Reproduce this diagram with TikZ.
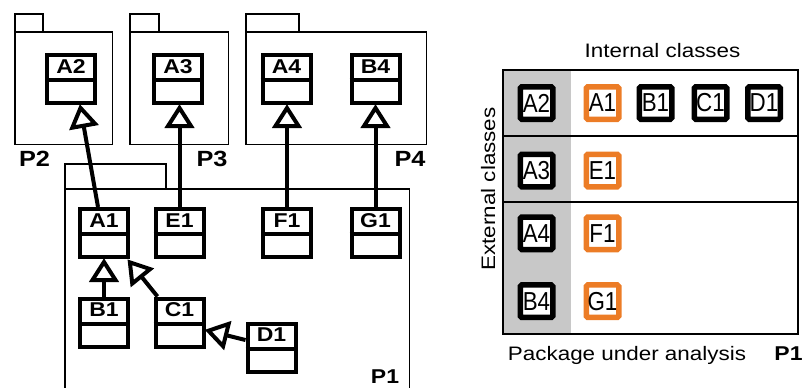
\documentclass[tikz,border=0pt]{standalone}
\usepackage{fontspec}
\setmainfont{Liberation Sans}[FakeStretch=1.15]
\newfontfamily\tabfont{Liberation Sans}[FakeStretch=0.86]
\usetikzlibrary{calc}
\definecolor{orng}{RGB}{236,124,38}
\definecolor{gcol}{RGB}{200,200,200}
\newcommand\umlcls[4]{%
  \node[cls] (#1) at (#2,#3) {};
  \draw[line width=4pt] ($(#1.north west)+(0,27)$) -- ($(#1.north east)+(0,27)$);
  \node[clsname] (#1-name) at ($(#1.north)+(0,13.5)$) {#4};
}
% generalisation: #1 start coordinate, #2 end coordinate (on the target box)
\newcommand\genarrow[2]{%
  \coordinate (ga-apex) at ($(#2)!3pt!(#1)$);
  \coordinate (ga-base) at ($(#2)!21pt!(#1)$);
  \draw[conn] (#1) -- (ga-base);
  \draw[conn, fill=white, line join=miter]
    (ga-apex) -- ($(ga-base)!11.5pt!90:(ga-apex)$)
    -- ($(ga-base)!11.5pt!-90:(ga-apex)$) -- cycle;
}
\begin{document}
\begin{tikzpicture}[x=1pt,y=-1pt,
  pkg/.style={draw, line width=1.5pt},
  cls/.style={draw, line width=4pt, minimum width=48pt, minimum height=48pt, inner sep=0pt},
  clsname/.style={font=\bfseries\fontsize{20}{22}\selectfont, inner sep=0pt},
  pkglbl/.style={font=\bfseries\fontsize{22}{24}\selectfont, anchor=base, inner sep=0pt},
  conn/.style={line width=4pt},
  sq/.style={draw, line width=5.5pt, rounded corners=1.5pt, minimum size=32.5pt, inner sep=0pt, fill=white, font=\tabfont\fontsize{26}{28}\selectfont},
  ext/.style={sq, draw=black},
  int/.style={sq, draw=orng},
  txt/.style={font=\fontsize{19.5}{22}\selectfont, inner sep=0pt, anchor=base}
]
\useasboundingbox (0,0) rectangle (803,388);

% packages
\draw[pkg] (14.75,13.75) rectangle (43,32);
\draw[pkg] (14.75,32) rectangle (112.25,144.25);
\draw[pkg] (129.75,13.75) rectangle (159,32);
\draw[pkg] (129.75,32) rectangle (228.25,144.25);
\draw[pkg] (245.75,13.75) rectangle (299,32);
\draw[pkg] (245.75,32) rectangle (426.25,144.25);
\draw[pkg] (64.75,188) |- (166,163.75) -- (166,188);
\draw[pkg] (64.75,392) -- (64.75,188.75) -- (409.25,188.75) -- (409.25,392);

\node[pkglbl] (P2) at (34.5,166) {P2};
\node[pkglbl] (P3) at (212,166) {P3};
\node[pkglbl] (P4) at (410,166) {P4};
\node[pkglbl, font=\bfseries\fontsize{20}{22}\selectfont] (P1) at (385,383) {P1};

% classes
\umlcls{A2}{71}{79}{A2}
\umlcls{A3}{178}{79}{A3}
\umlcls{A4}{286.5}{79}{A4}
\umlcls{B4}{375.5}{79}{B4}
\umlcls{A1}{104}{233}{A1}
\umlcls{E1}{179.5}{233}{E1}
\umlcls{F1}{287}{233}{F1}
\umlcls{G1}{375.5}{233}{G1}
\umlcls{B1}{104}{322.5}{B1}
\umlcls{C1}{179.5}{322.5}{C1}
\umlcls{D1}{271.5}{347.5}{D1}

% generalisation end points
\coordinate (s1) at ($(A1.north)+(-6,0)$);  \coordinate (e1) at ($(A2.south)+(9,0)$);
\coordinate (s2) at (E1.north);             \coordinate (e2) at (E1.north |- A3.south);
\coordinate (s3) at (F1.north);             \coordinate (e3) at (F1.north |- A4.south);
\coordinate (s4) at (G1.north);             \coordinate (e4) at (G1.north |- B4.south);
\coordinate (s5) at (B1.north);             \coordinate (e5) at (A1.south);
\coordinate (s6) at ($(C1.north west)+(4,0)$); \coordinate (e6) at ($(A1.south east)+(-2,1)$);
\coordinate (s7) at ($(D1.west)+(0,-7.5)$); \coordinate (e7) at ($(C1.east)+(0,7.5)$);

\genarrow{s1}{e1}
\genarrow{s2}{e2}
\genarrow{s3}{e3}
\genarrow{s4}{e4}
\genarrow{s5}{e5}
\genarrow{s6}{e6}
\genarrow{s7}{e7}

% table
\fill[gcol] (503,70) rectangle (571,334);
\draw[line width=1.5pt] (503,70) rectangle (798,334);
\draw[line width=1.5pt] (503,136) -- (798,136);
\draw[line width=1.5pt] (503,202) -- (798,202);

\node[ext] (tA2) at (536.5,103) {A2};
\node[int] (tA1) at (602.5,103) {A1};
\node[ext] (tB1) at (655.5,103) {B1};
\node[ext] (tC1) at (710.5,103) {C1};
\node[ext] (tD1) at (764,103) {D1};
\node[ext] (tA3) at (536.5,170.5) {A3};
\node[int] (tE1) at (602.5,170.5) {E1};
\node[ext] (tA4) at (536.5,233.3) {A4};
\node[int] (tF1) at (602.5,233.3) {F1};
\node[ext] (tB4) at (536.5,301.2) {B4};
\node[int] (tG1) at (602.5,301.2) {G1};

\node[txt] (intl) at (662.5,57) {Internal classes};
\node[txt, rotate=90] (extl) at (495,189) {External classes};
\node[txt] (pua) at (627,360) {Package under analysis};
\node[pkglbl, font=\bfseries\fontsize{20}{22}\selectfont] (P1r) at (788.5,360) {P1};
\end{tikzpicture}
\end{document}
